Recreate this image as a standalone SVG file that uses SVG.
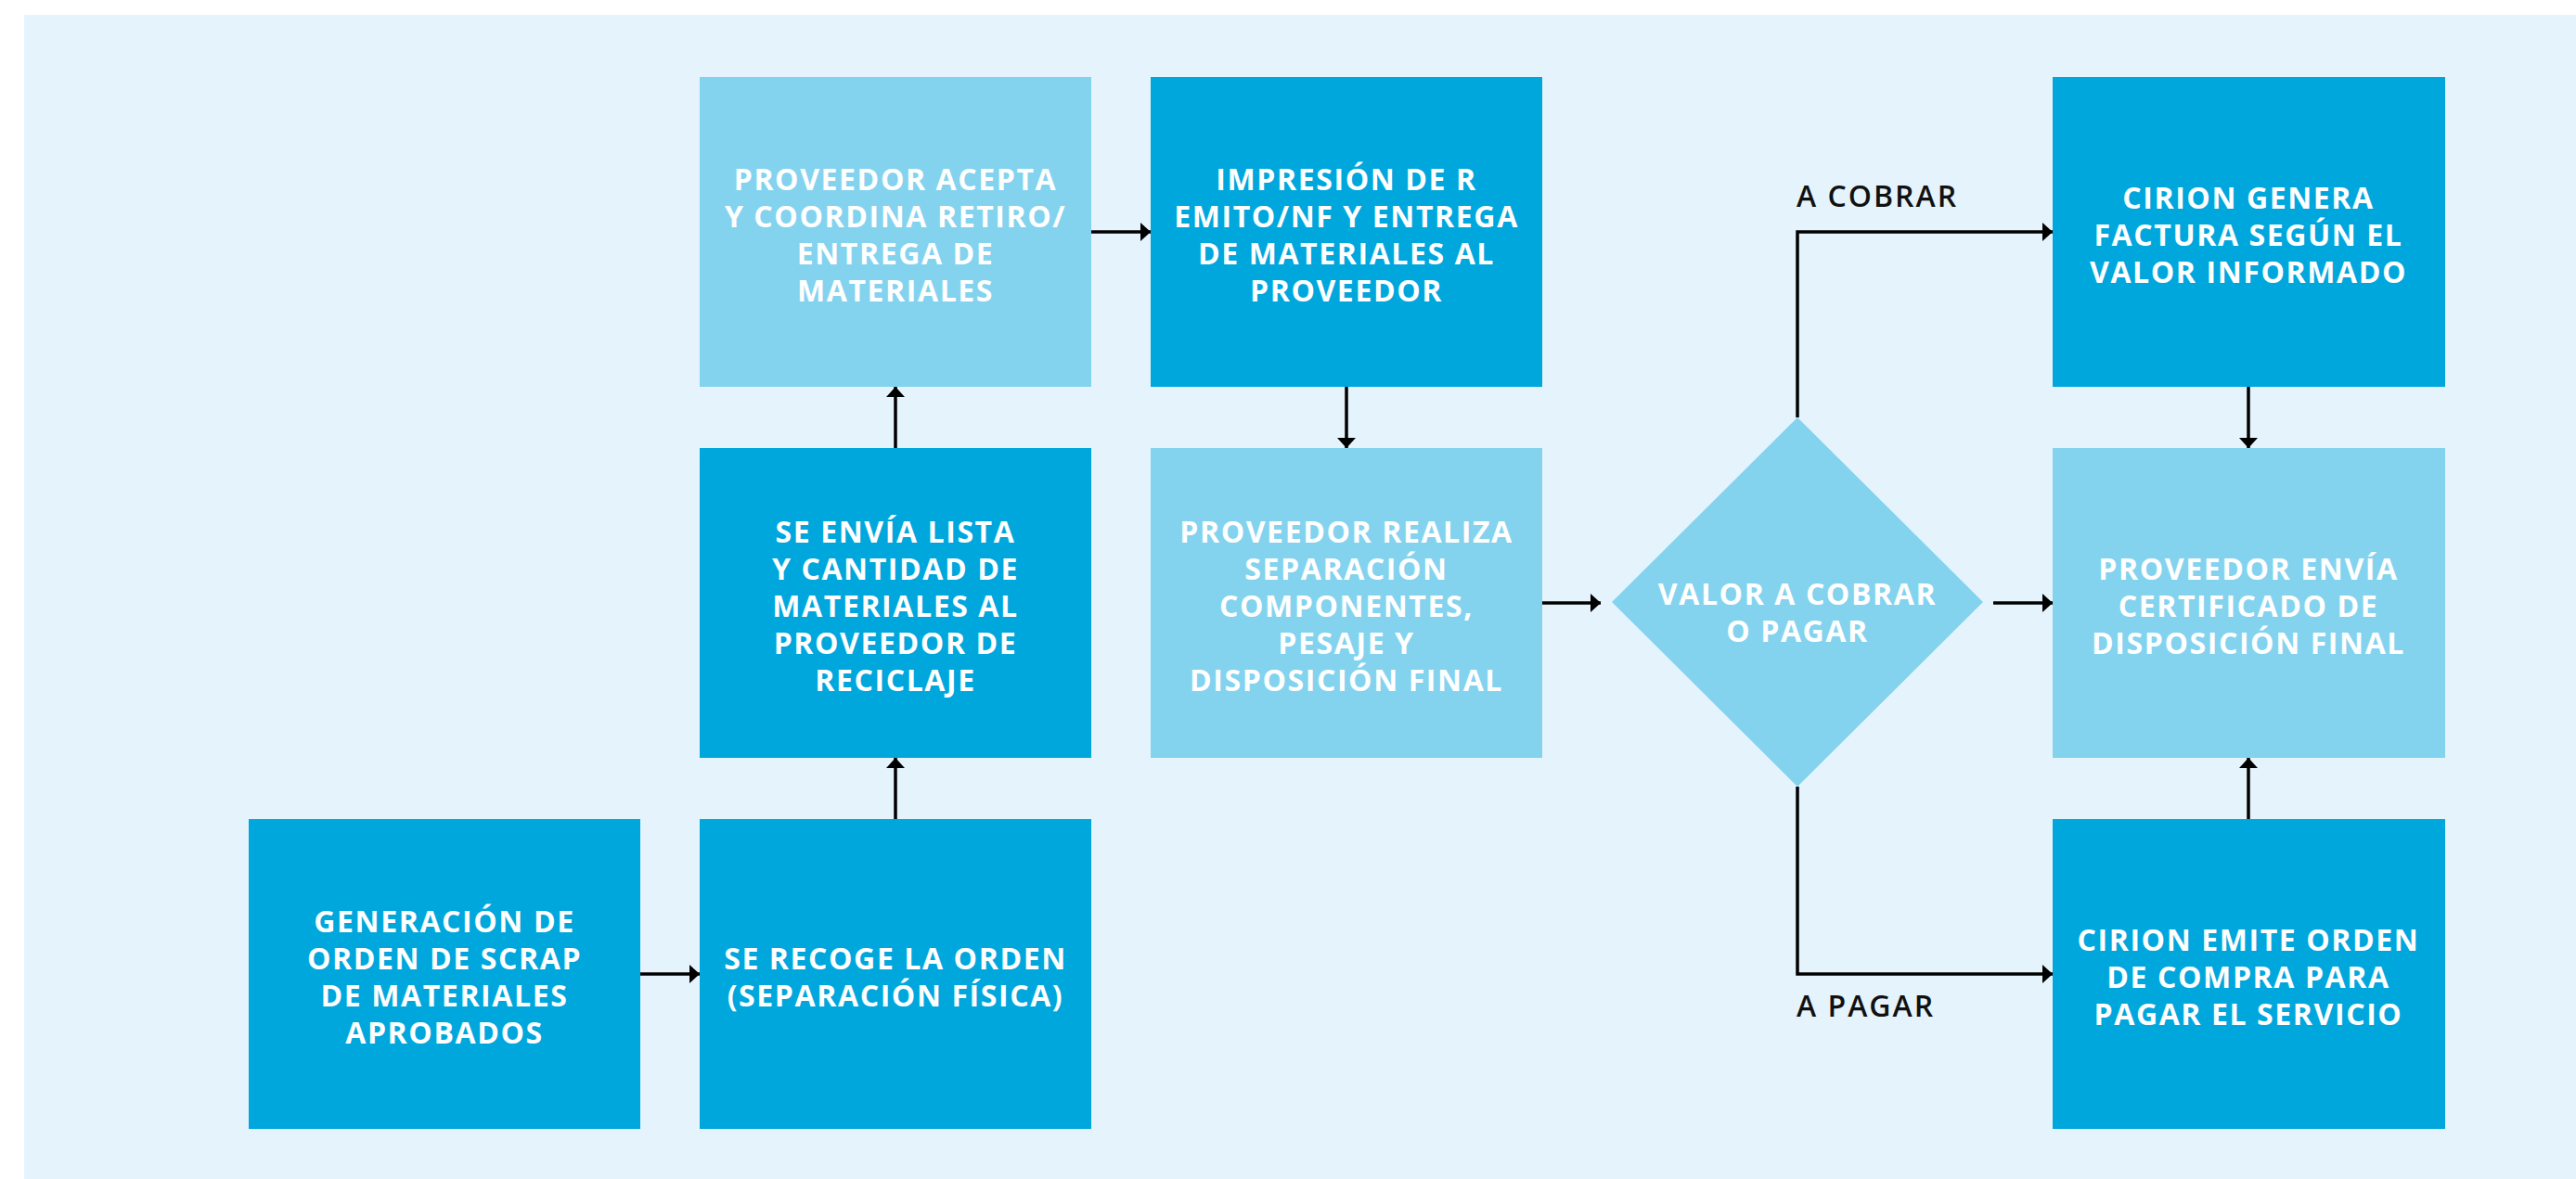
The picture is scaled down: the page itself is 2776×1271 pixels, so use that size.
<svg xmlns="http://www.w3.org/2000/svg" width="2776" height="1271" viewBox="0 0 2776 1271">
<style>
.dark{fill:#00A7DD}
.light{fill:#83D3EF}
.t{font-family:"Open Sans","Liberation Sans",sans-serif;font-weight:700;font-size:32px;letter-spacing:1.6px;fill:#ffffff;text-anchor:middle}
.lbl{font-family:"Open Sans","Liberation Sans",sans-serif;font-weight:600;font-size:32px;letter-spacing:2px;fill:#111111}
.c{fill:none;stroke:#000000;stroke-width:3.5}
</style>
<defs>
<marker id="ah" markerUnits="userSpaceOnUse" markerWidth="11" markerHeight="20" viewBox="0 0 11 20" refX="11" refY="10" orient="auto">
<path d="M0,0 L11,10 L0,20 Z" fill="#000000"/>
</marker>
</defs>
<rect x="0" y="0" width="2776" height="1271" fill="#ffffff"/>
<rect x="26" y="16" width="2750" height="1255" fill="#E5F4FC"/>

<g id="n-generacion">
<rect class="dark" x="268" y="883" width="422" height="334"/>
<text class="t"><tspan x="479" y="1005">GENERACIÓN DE</tspan><tspan x="479" y="1045">ORDEN DE SCRAP</tspan><tspan x="479" y="1085">DE MATERIALES</tspan><tspan x="479" y="1125">APROBADOS</tspan></text>
</g>
<g id="n-recoge">
<rect class="dark" x="754" y="883" width="422" height="334"/>
<text class="t"><tspan x="965" y="1045">SE RECOGE LA ORDEN</tspan><tspan x="965" y="1085">(SEPARACIÓN FÍSICA)</tspan></text>
</g>
<g id="n-envia-lista">
<rect class="dark" x="754" y="483" width="422" height="334"/>
<text class="t"><tspan x="965" y="585">SE ENVÍA LISTA</tspan><tspan x="965" y="625">Y CANTIDAD DE</tspan><tspan x="965" y="665">MATERIALES AL</tspan><tspan x="965" y="705">PROVEEDOR DE</tspan><tspan x="965" y="745">RECICLAJE</tspan></text>
</g>
<g id="n-acepta">
<rect class="light" x="754" y="83" width="422" height="334"/>
<text class="t"><tspan x="965" y="205">PROVEEDOR ACEPTA</tspan><tspan x="965" y="245">Y COORDINA RETIRO/</tspan><tspan x="965" y="285">ENTREGA DE</tspan><tspan x="965" y="325">MATERIALES</tspan></text>
</g>
<g id="n-impresion">
<rect class="dark" x="1240" y="83" width="422" height="334"/>
<text class="t"><tspan x="1451" y="205">IMPRESIÓN DE R</tspan><tspan x="1451" y="245">EMITO/NF Y ENTREGA</tspan><tspan x="1451" y="285">DE MATERIALES AL</tspan><tspan x="1451" y="325">PROVEEDOR</tspan></text>
</g>
<g id="n-realiza">
<rect class="light" x="1240" y="483" width="422" height="334"/>
<text class="t"><tspan x="1451" y="585">PROVEEDOR REALIZA</tspan><tspan x="1451" y="625">SEPARACIÓN</tspan><tspan x="1451" y="665">COMPONENTES,</tspan><tspan x="1451" y="705">PESAJE Y</tspan><tspan x="1451" y="745">DISPOSICIÓN FINAL</tspan></text>
</g>
<g id="n-valor">
<polygon class="light" points="1937,450 2137,649 1937,848 1737,649"/>
<text class="t"><tspan x="1937" y="652">VALOR A COBRAR</tspan><tspan x="1937" y="692">O PAGAR</tspan></text>
</g>
<g id="n-factura">
<rect class="dark" x="2212" y="83" width="423" height="334"/>
<text class="t"><tspan x="2423" y="225">CIRION GENERA</tspan><tspan x="2423" y="265">FACTURA SEGÚN EL</tspan><tspan x="2423" y="305">VALOR INFORMADO</tspan></text>
</g>
<g id="n-certificado">
<rect class="light" x="2212" y="483" width="423" height="334"/>
<text class="t"><tspan x="2423" y="625">PROVEEDOR ENVÍA</tspan><tspan x="2423" y="665">CERTIFICADO DE</tspan><tspan x="2423" y="705">DISPOSICIÓN FINAL</tspan></text>
</g>
<g id="n-orden-compra">
<rect class="dark" x="2212" y="883" width="423" height="334"/>
<text class="t"><tspan x="2423" y="1025">CIRION EMITE ORDEN</tspan><tspan x="2423" y="1065">DE COMPRA PARA</tspan><tspan x="2423" y="1105">PAGAR EL SERVICIO</tspan></text>
</g>

<g id="connectors">
<path class="c" marker-end="url(#ah)" d="M690,1050 H754"/>
<path class="c" marker-end="url(#ah)" d="M965,883 V817"/>
<path class="c" marker-end="url(#ah)" d="M965,483 V417"/>
<path class="c" marker-end="url(#ah)" d="M1176,250 H1240"/>
<path class="c" marker-end="url(#ah)" d="M1451,417 V483"/>
<path class="c" marker-end="url(#ah)" d="M1662,650 H1725"/>
<path class="c" marker-end="url(#ah)" d="M2148,650 H2212"/>
<path class="c" marker-end="url(#ah)" d="M1937,450 V250 H2212"/>
<path class="c" marker-end="url(#ah)" d="M1937,848 V1050 H2212"/>
<path class="c" marker-end="url(#ah)" d="M2423,417 V483"/>
<path class="c" marker-end="url(#ah)" d="M2423,883 V817"/>
<text class="lbl" x="1936" y="223">A COBRAR</text>
<text class="lbl" x="1936" y="1096">A PAGAR</text>
</g>
</svg>
